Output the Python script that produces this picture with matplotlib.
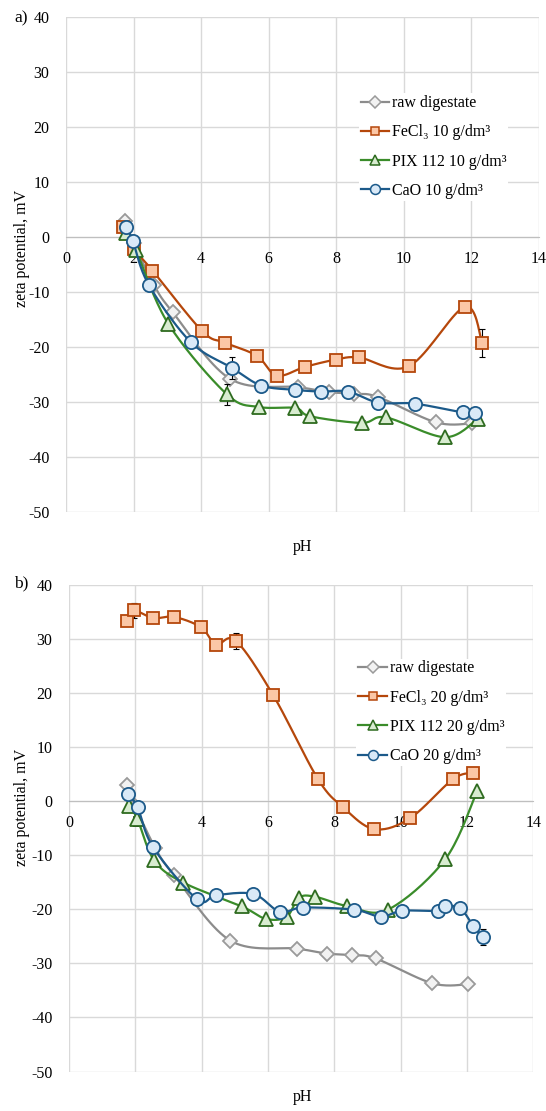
import numpy as np
import matplotlib.pyplot as plt

plt.rcParams['font.family'] = ['Liberation Serif', 'DejaVu Serif']

# panel a) 10 g/dm3
raw_ph = [1.75, 2.0, 2.6, 3.16, 4.86, 6.88, 7.77, 8.53, 9.24, 10.95, 12.02]
raw_z = [3.0, -1.0, -8.7, -13.7, -25.8, -27.3, -28.2, -28.5, -29.1, -33.7, -33.9]

fe10_ph = [1.70, 2.01, 2.56, 4.03, 4.70, 5.65, 6.24, 7.08, 7.98, 8.67, 10.15, 11.80, 12.32]
fe10_z = [1.8, -2.1, -6.1, -17.1, -19.2, -21.6, -25.2, -23.6, -22.3, -21.9, -23.5, -12.7, -19.3]
fe10_err = [0, 0, 0, 0, 0, 0, 0, 0, 0, 0, 0, 0, 2.6]

pix10_ph = [1.78, 2.07, 3.03, 4.76, 5.70, 6.79, 7.23, 8.75, 9.47, 11.22, 12.2]
pix10_z = [0.7, -2.4, -15.8, -28.6, -30.9, -31.1, -32.6, -33.8, -32.8, -36.4, -33.0]
pix10_err = [0, 0, 0, 1.9, 0, 0, 0, 0.6, 0, 0, 0]

cao10_ph = [1.79, 1.98, 2.45, 3.69, 4.91, 5.78, 6.79, 7.56, 8.35, 9.24, 10.32, 11.74, 12.10]
cao10_z = [1.8, -0.8, -8.7, -19.1, -23.8, -27.0, -27.8, -28.1, -28.1, -30.1, -30.3, -31.9, -32.0]
cao10_err = [0, 0, 0, 0, 2.0, 0, 0, 0, 0, 0, 0, 0, 0]

# panel b) 20 g/dm3
fe20_ph = [1.74, 1.95, 2.54, 3.17, 3.98, 4.43, 5.03, 6.16, 7.50, 8.27, 9.20, 10.28, 11.57, 12.17]
fe20_z = [33.3, 35.2, 33.8, 34.0, 32.1, 28.9, 29.6, 19.5, 4.1, -1.2, -5.2, -3.2, 4.0, 5.2]
fe20_err = [0, 1.3, 0, 0, 0, 0.6, 1.5, 0, 0, 0, 0, 0, 0, 0]

pix20_ph = [1.82, 2.06, 2.57, 3.45, 5.21, 5.94, 6.56, 6.93, 7.42, 8.37, 9.61, 11.34, 12.31]
pix20_z = [-1.0, -3.3, -11.0, -15.1, -19.5, -21.8, -21.4, -17.9, -17.7, -19.4, -20.1, -10.8, 1.9]

cao20_ph = [1.77, 2.07, 2.54, 3.87, 4.44, 5.56, 6.36, 7.05, 8.60, 9.40, 10.03, 11.13, 11.34, 11.79, 12.19, 12.47]
cao20_z = [1.35, -1.2, -8.6, -18.2, -17.4, -17.2, -20.5, -19.7, -20.1, -21.4, -20.3, -20.3, -19.5, -19.8, -23.1, -25.1]
cao20_err = [0, 0, 0, 0, 0, 0, 0, 0, 0, 0, 0, 0, 0, 0, 0, 1.5]

styles = {
    'raw': dict(color='#8c8c8c', marker='D', mfc='#f2f2f2', mec='#9a9a9a', ms=7.5),
    'fe': dict(color='#b5470b', marker='s', mfc='#fbc7a6', mec='#b5470b', ms=8.5),
    'pix': dict(color='#3a8c2a', marker='^', mfc='#d8ecd0', mec='#2e6b1f', ms=9.5),
    'cao': dict(color='#1c5a8a', marker='o', mfc='#d9e9f7', mec='#1c5a8a', ms=9.5),
}


def smooth(x, y, n=20):
    # bezier smoothing like the spreadsheet "smoothed line"
    x = np.asarray(x, float)
    y = np.asarray(y, float)
    p = np.column_stack([x, y])
    pts = [p[0]]
    t = np.linspace(0, 1, n)[1:, None]
    for i in range(len(p) - 1):
        p0 = p[max(i - 1, 0)]
        p1 = p[i]
        p2 = p[i + 1]
        p3 = p[min(i + 2, len(p) - 1)]
        c1 = p1 + (p2 - p0) / 6
        c2 = p2 - (p3 - p1) / 6
        seg = ((1 - t) ** 3) * p1 + 3 * ((1 - t) ** 2) * t * c1 + 3 * (1 - t) * t ** 2 * c2 + t ** 3 * p2
        pts.extend(seg)
    pts = np.array(pts)
    return pts[:, 0], pts[:, 1]


def draw(ax, ph, z, key, label, err=None, zo=3):
    st = styles[key]
    sx, sy = smooth(ph, z)
    ax.plot(sx, sy, color=st['color'], lw=1.6, zorder=zo)
    if err is not None:
        e = np.array(err)
        m = e > 0
        ax.errorbar(np.array(ph)[m], np.array(z)[m], yerr=e[m], fmt='none',
                    ecolor='black', elinewidth=0.8, capsize=2.5, capthick=0.8, zorder=zo)
    ax.plot(ph, z, ls='none', marker=st['marker'], mfc=st['mfc'], mec=st['mec'],
            ms=st['ms'], mew=1.3, zorder=zo + 0.1)
    # legend proxy
    ax.plot([], [], color=st['color'], lw=1.6, marker=st['marker'], mfc=st['mfc'],
            mec=st['mec'], ms=st['ms'] * 0.75, mew=1.1, label=label)


def style_axes(ax):
    ax.set_xlim(0, 14)
    ax.set_ylim(-50, 40)
    ax.set_xticks(range(0, 15, 2))
    ax.set_yticks(range(-50, 41, 10))
    ax.grid(True, color='#d9d9d9', lw=1)
    ax.set_axisbelow(True)
    for s in ['top', 'right', 'left']:
        ax.spines[s].set_visible(False)
    ax.spines['bottom'].set_position(('data', 0))
    ax.spines['bottom'].set_color('#bfbfbf')
    ax.spines['bottom'].set_zorder(1)
    ax.tick_params(axis='both', length=0, labelsize=11.5)
    ax.tick_params(axis='x', pad=10)
    ax.tick_params(axis='y', pad=12)
    ax.set_yticklabels([str(v) for v in range(-50, 41, 10)])


def add_legend(ax, anchor):
    leg = ax.legend(loc='upper left', bbox_to_anchor=anchor, frameon=True, fontsize=11.5,
                    handlelength=1.8, handletextpad=0.15, labelspacing=0.83, borderpad=0.12,
                    borderaxespad=0)
    leg.get_frame().set_edgecolor('none')
    leg.get_frame().set_facecolor('white')
    leg.get_frame().set_alpha(1)
    leg.set_zorder(10)


fig = plt.figure(figsize=(5.46, 11.11), dpi=100)
W, H = 546, 1111

ax1 = fig.add_axes([66 / W, 1 - 512 / H, 473 / W, 495 / H])
style_axes(ax1)
draw(ax1, raw_ph, raw_z, 'raw', 'raw digestate', zo=3)
draw(ax1, fe10_ph, fe10_z, 'fe', 'FeCl₃ 10 g/dm³', fe10_err, zo=4)
draw(ax1, pix10_ph, pix10_z, 'pix', 'PIX 112 10 g/dm³', pix10_err, zo=5)
draw(ax1, cao10_ph, cao10_z, 'cao', 'CaO 10 g/dm³', cao10_err, zo=6)
add_legend(ax1, (0.619, 0.846))

ax2 = fig.add_axes([69 / W, 1 - 1071.5 / H, 464.4 / W, 487 / H])
style_axes(ax2)
draw(ax2, raw_ph, raw_z, 'raw', 'raw digestate', zo=3)
draw(ax2, fe20_ph, fe20_z, 'fe', 'FeCl₃ 20 g/dm³', fe20_err, zo=4)
draw(ax2, pix20_ph, pix20_z, 'pix', 'PIX 112 20 g/dm³', zo=5)
draw(ax2, cao20_ph, cao20_z, 'cao', 'CaO 20 g/dm³', cao20_err, zo=6)
add_legend(ax2, (0.619, 0.848))

fig.text(303 / W, 1 - 547 / H, 'pH', ha='center', va='center', fontsize=11.5)
fig.text(303 / W, 1 - 1097 / H, 'pH', ha='center', va='center', fontsize=11.5)
fig.text(22 / W, 1 - 248 / H, 'zeta potential, mV', rotation=90, ha='center', va='center', fontsize=11.5)
fig.text(22 / W, 1 - 807 / H, 'zeta potential, mV', rotation=90, ha='center', va='center', fontsize=11.5)
fig.text(14 / W, 1 - 18 / H, 'a)', ha='left', va='center', fontsize=12.5)
fig.text(14 / W, 1 - 583 / H, 'b)', ha='left', va='center', fontsize=12.5)

fig.savefig('out.png', dpi=100)
